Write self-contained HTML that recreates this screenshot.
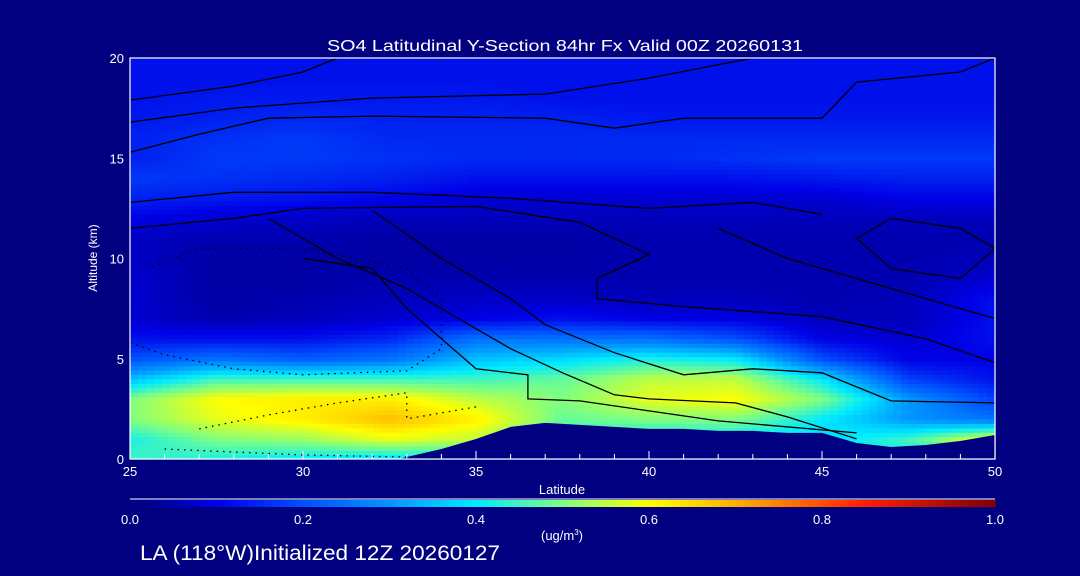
<!DOCTYPE html>
<html><head><meta charset="utf-8"><style>
body{margin:0;background:#000080;width:1080px;height:576px;overflow:hidden}
svg{display:block}
text{font-family:"Liberation Sans",sans-serif;fill:#fff}
</style></head><body>
<svg id="chart" width="1080" height="576" viewBox="0 0 1080 576">
<rect width="1080" height="576" fill="#000080"/>
<text x="327" y="51" font-size="16" textLength="476" lengthAdjust="spacingAndGlyphs">SO4 Latitudinal Y-Section 84hr  Fx Valid 00Z 20260131</text>
<g id="field"></g>
<g id="terrain"></g>
<g id="contours"></g>
<g id="axes"></g>
<text x="562" y="494" font-size="13" text-anchor="middle">Latitude</text>
<text x="97" y="258" font-size="12" text-anchor="middle" transform="rotate(-90 97 258)">Altitude (km)</text>
<g id="colorbar"></g>
<text x="562" y="540" font-size="13" text-anchor="middle">(ug/m<tspan font-size="8" dy="-5">3</tspan><tspan dy="5">)</tspan></text>
<text x="140" y="560" font-size="21" textLength="360" lengthAdjust="spacingAndGlyphs">LA (118°W)Initialized 12Z 20260127</text>
</svg>
<script>
const lats=[25,27.5,30,32.5,35,37.5,40,42.5,45,47.5,50];
const alts=[0,1,2,3,4,5,6,7,8,9,10,11,12,13,14,15,16,17,18,19,20];
const conc=[
[0.45,0.42,0.40,0.38,0.40,0.40,0.40,0.40,0.40,0.40,0.40],
[0.42,0.50,0.52,0.58,0.55,0.42,0.40,0.40,0.38,0.45,0.60],
[0.50,0.58,0.62,0.68,0.62,0.48,0.50,0.50,0.40,0.30,0.25],
[0.50,0.60,0.62,0.62,0.55,0.50,0.58,0.60,0.50,0.30,0.18],
[0.35,0.45,0.45,0.45,0.45,0.48,0.55,0.55,0.40,0.18,0.12],
[0.20,0.25,0.22,0.25,0.35,0.38,0.42,0.40,0.20,0.10,0.10],
[0.12,0.12,0.12,0.15,0.25,0.25,0.25,0.20,0.10,0.08,0.12],
[0.08,0.05,0.06,0.08,0.10,0.12,0.10,0.10,0.06,0.06,0.12],
[0.08,0.04,0.05,0.06,0.07,0.07,0.06,0.06,0.05,0.06,0.12],
[0.08,0.04,0.04,0.05,0.05,0.05,0.05,0.05,0.05,0.05,0.08],
[0.07,0.04,0.04,0.04,0.04,0.04,0.05,0.05,0.05,0.05,0.06],
[0.07,0.05,0.05,0.04,0.04,0.04,0.05,0.05,0.05,0.05,0.05],
[0.10,0.08,0.07,0.06,0.06,0.06,0.06,0.06,0.06,0.06,0.06],
[0.14,0.13,0.12,0.10,0.08,0.08,0.08,0.08,0.08,0.10,0.10],
[0.17,0.16,0.15,0.14,0.12,0.12,0.12,0.12,0.13,0.14,0.14],
[0.14,0.17,0.17,0.16,0.15,0.15,0.15,0.16,0.17,0.17,0.17],
[0.14,0.16,0.17,0.15,0.15,0.15,0.15,0.15,0.15,0.15,0.15],
[0.13,0.14,0.15,0.14,0.14,0.14,0.13,0.13,0.13,0.13,0.13],
[0.12,0.13,0.13,0.13,0.13,0.12,0.12,0.12,0.12,0.12,0.12],
[0.12,0.12,0.12,0.12,0.12,0.12,0.12,0.12,0.12,0.12,0.12],
[0.12,0.12,0.12,0.12,0.12,0.12,0.12,0.12,0.12,0.12,0.12]];
const terrainLat=[25,32.8,33,34,35,36,37,38,39,40,41,42,43,44,45,46,47,48,49,50];
const terrainAlt=[0,0,0.1,0.5,1.0,1.6,1.8,1.7,1.6,1.5,1.5,1.4,1.4,1.3,1.3,0.8,0.6,0.7,0.9,1.2];
const contourSolid=[
[[25,17.9],[28,18.6],[30,19.3],[31,20]],
[[25,16.8],[28,17.5],[32,18],[37,18.2],[40,19],[43,20]],
[[25,15.3],[27,16.2],[29,17],[32,17.1],[37,17],[39,16.5],[41,17],[45,17],[46,18.8],[49,19.3],[50,20]],
[[25,12.8],[28,13.3],[32,13.3],[36,13],[40,12.5],[43,12.8],[45,12.2]],
[[25,11.5],[28,12],[30,12.5],[35,12.6],[38,11.8],[40,10.2],[38.5,9],[38.5,8],[41,7.6],[45,7.1],[48,6],[50,4.8]],
[[29,12],[31,10],[33,8.5],[35,6.5],[36,5.5],[37.5,4.3],[39,3.2],[40,3],[42.5,2.8],[44,2.1],[46,1.0]],
[[32,12.4],[34,10],[36,8],[37,6.7],[39,5.3],[41,4.2],[43,4.5],[45,4.3],[47,2.9],[50,2.8]],
[[30,10],[32,9.5],[33,7.5],[34,6],[35,4.5],[36.5,4.2],[36.5,3],[38,2.9],[40,2.4],[42,1.9],[46,1.3]],
[[42,11.5],[44,10],[46,9],[48,8],[50,7]],
[[46,11],[47,12],[49,11.5],[50,10.5],[49,9],[47,9.5],[46,11]]];
const contourDotted=[
[[25,5.8],[26,5.2],[28,4.5],[30,4.2],[33,4.4],[34,5.5],[34,8],[33,9.5],[30,10.5],[27,10.5],[25.5,9.5]],
[[27,1.5],[29,2.2],[31,2.8],[33,3.3],[33,2],[35,2.6]],
[[26,0.5],[30,0.2],[33,0.1]]];
const xTicks=[25,30,35,40,45,50];
const yTicks=[0,5,10,15,20];
const cbTicks=["0.0","0.2","0.4","0.6","0.8","1.0"];

const NS="http://www.w3.org/2000/svg";
const X0=130,X1=995,Y0=459,Y1=58;
const xs=v=>X0+(v-25)/25*(X1-X0);
const ys=v=>Y0-v/20*(Y0-Y1);
const stops=[[0,[0,0,122]],[0.1,[0,0,230]],[0.2,[0,80,255]],[0.3,[0,150,255]],[0.4,[0,235,255]],[0.5,[128,255,128]],[0.6,[255,255,0]],[0.7,[255,175,0]],[0.85,[255,30,0]],[1,[128,0,0]]];
function cmap(v){v=Math.max(0,Math.min(1,v));for(let i=1;i<stops.length;i++){if(v<=stops[i][0]){const a=stops[i-1],b=stops[i],t=(v-a[0])/(b[0]-a[0]);const c=a[1].map((q,k)=>Math.round(q+(b[1][k]-q)*t));return `rgb(${c})`;}}return 'rgb(128,0,0)';}
function interp(lat,alt){
 let i=Math.min(lats.length-2,Math.max(0,Math.floor((lat-25)/2.5)));let tx=(lat-lats[i])/2.5;
 let j=Math.min(alts.length-2,Math.max(0,Math.floor(alt)));let ty=alt-alts[j];
 return conc[j][i]*(1-tx)*(1-ty)+conc[j][i+1]*tx*(1-ty)+conc[j+1][i]*(1-tx)*ty+conc[j+1][i+1]*tx*ty;}
const field=document.getElementById('field');
const NX=110,NY=90;
for(let a=0;a<NY;a++)for(let b=0;b<NX;b++){
 const lat=25+(b+0.5)*25/NX,alt=(a+0.5)*20/NY;
 const r=document.createElementNS(NS,'rect');
 const x=xs(25+b*25/NX),y=ys((a+1)*20/NY);
 r.setAttribute('x',x.toFixed(2));r.setAttribute('y',y.toFixed(2));
 r.setAttribute('width',((X1-X0)/NX+0.6).toFixed(2));r.setAttribute('height',((Y0-Y1)/NY+0.6).toFixed(2));
 r.setAttribute('fill',cmap(interp(lat,alt)));
 
 
 field.appendChild(r);}
const ter=document.createElementNS(NS,'polygon');
ter.setAttribute('points',terrainLat.map((l,i)=>xs(l)+','+ys(terrainAlt[i])).join(' ')+` ${X1},${Y0} ${X0},${Y0}`);
ter.setAttribute('fill','#000080');


document.getElementById('terrain').appendChild(ter);
const cg=document.getElementById('contours');
function addLine(pts,dotted){const p=document.createElementNS(NS,'polyline');
 p.setAttribute('points',pts.map(q=>xs(q[0]).toFixed(1)+','+ys(q[1]).toFixed(1)).join(' '));
 p.setAttribute('fill','none');p.setAttribute('stroke','#000');p.setAttribute('stroke-width','1.3');
 if(dotted)p.setAttribute('stroke-dasharray','1.5 5');
 
 
 cg.appendChild(p);}
contourSolid.forEach(c=>addLine(c,false));contourDotted.forEach(c=>addLine(c,true));
const ax=document.getElementById('axes');
function el(tag,attrs,name){const e=document.createElementNS(NS,tag);for(const k in attrs)e.setAttribute(k,attrs[k]);ax.appendChild(e);return e;}
const frame=el('rect',{x:X0,y:Y1,width:X1-X0,height:Y0-Y1,fill:'none',stroke:'#fff','stroke-width':1.2},'plot-frame');
for(let l=25;l<=50;l++){const big=l%5==0;el('line',{x1:xs(l),x2:xs(l),y1:Y0,y2:Y0-(big?8:5),stroke:'#fff'},'x-tick');}
xTicks.forEach(l=>{const t=el('text',{x:xs(l),y:476,'font-size':13,'text-anchor':'middle'},'x-tick-label');t.textContent=l;});
yTicks.forEach(v=>{const t=el('text',{x:124,y:ys(v)+5,'font-size':13,'text-anchor':'end'},'y-tick-label');t.textContent=v;});
const cb=document.getElementById('colorbar');
for(let i=0;i<200;i++){const r=document.createElementNS(NS,'rect');
 r.setAttribute('x',(X0+i*(X1-X0)/200).toFixed(2));r.setAttribute('y',500);
 r.setAttribute('width',((X1-X0)/200+0.6).toFixed(2));r.setAttribute('height',7);
 r.setAttribute('fill',cmap((i+0.5)/200));
 
 
 cb.appendChild(r);}
const cl=document.createElementNS(NS,'line');
cl.setAttribute('x1',X0);cl.setAttribute('x2',X1);cl.setAttribute('y1',499);cl.setAttribute('y2',499);cl.setAttribute('stroke','#fff');


cb.appendChild(cl);
cbTicks.forEach((s,i)=>{const t=document.createElementNS(NS,'text');
 t.setAttribute('x',X0+i*(X1-X0)/5);t.setAttribute('y',524);t.setAttribute('font-size',13);t.setAttribute('text-anchor','middle');
 t.textContent=s;
 
 
 cb.appendChild(t);});
</script>
</body></html>
